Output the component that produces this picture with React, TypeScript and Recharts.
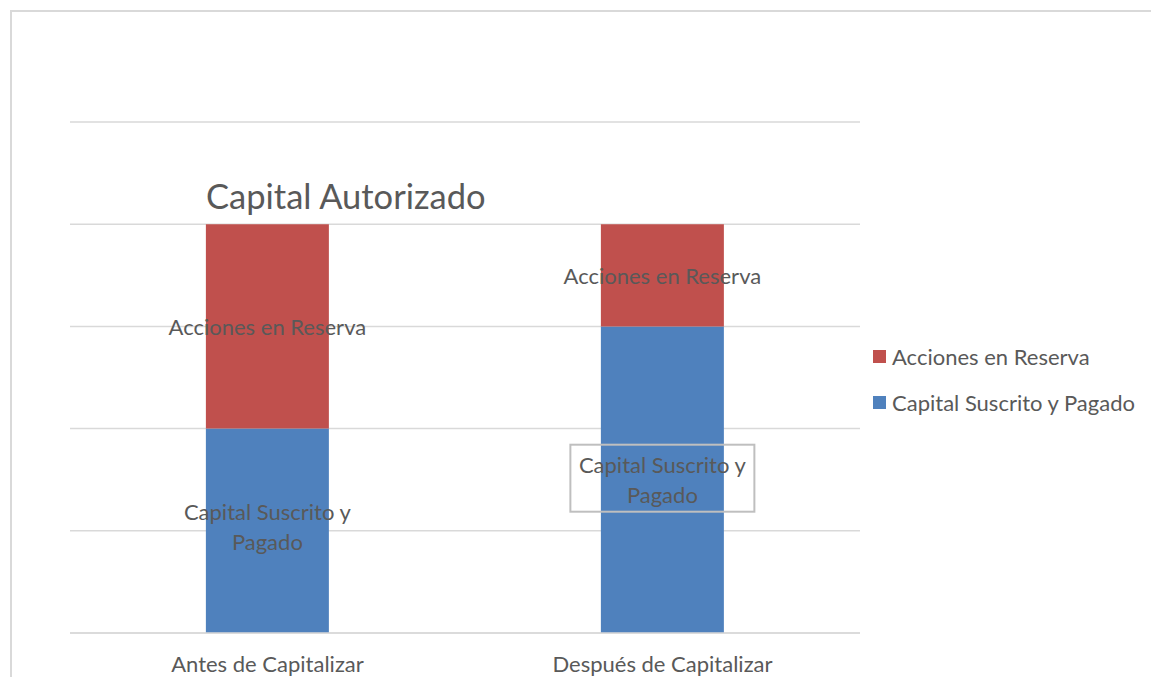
import { BarChart, Bar, XAxis, YAxis, CartesianGrid, LabelList } from "recharts";

const categories = ["Antes de Capitalizar", "Después de Capitalizar"];
const capitalSuscrito = [2, 3];
const accionesReserva = [2, 1];
const yTicks = [0, 1, 2, 3, 4, 5];

const BLUE = "#4F81BD";
const RED = "#C0504D";
const TEXT = "#595959";
const FONT = "Lato, 'Open Sans', sans-serif";
const FS = 22;

const data = categories.map((name, i) => ({
  name,
  capital: capitalSuscrito[i],
  reserva: accionesReserva[i],
}));

const legendItems = [
  { name: "Acciones en Reserva", color: RED },
  { name: "Capital Suscrito y Pagado", color: BLUE },
];

const ReservaLabel = (props: any) => {
  const { x, y, width, height } = props;
  return (
    <text x={x + width / 2} y={y + height / 2} textAnchor="middle" dominantBaseline="central" fill={TEXT} fontSize={FS} fontFamily={FONT}>
      Acciones en Reserva
    </text>
  );
};

const CapitalLabel = (props: any) => {
  const { x, y, width, height, index } = props;
  const cx = x + width / 2;
  const cy = y + height / 2 + (index === 0 ? -4 : 0);
  return (
    <g>
      {index === 1 && (
        <rect x={cx - 92} y={cy - 35} width={184} height={67} fill="none" stroke="#bfbfbf" strokeWidth={2} />
      )}
      <text x={cx} textAnchor="middle" fill={TEXT} fontSize={FS} fontFamily={FONT}>
        <tspan x={cx} y={cy - 7}>Capital Suscrito y</tspan>
        <tspan x={cx} y={cy + 23}>Pagado</tspan>
      </text>
    </g>
  );
};

// fixed box covering the window so nothing scrolls
export default function App() {
  return (
    <div style={{ position: "fixed", left: 0, top: 0, width: 1151, height: 677, overflow: "hidden", background: "#fff" }}>
      <div
        style={{
          position: "absolute",
          left: 10,
          top: 10,
          width: 1200,
          height: 700,
          borderTop: "2px solid #d9d9d9",
          borderLeft: "2px solid #d9d9d9",
        }}
      />
      <div
        style={{
          position: "absolute",
          left: 206,
          top: 175,
          fontFamily: FONT,
          fontSize: 34.5,
          color: TEXT,
          whiteSpace: "nowrap",
        }}
      >
        Capital Autorizado
      </div>
      <div style={{ position: "absolute", left: 873, top: 333, fontFamily: FONT, fontSize: FS, color: TEXT }}>
        {legendItems.map((d) => (
          <div key={d.name} style={{ display: "flex", alignItems: "center", height: 46 }}>
            <span style={{ width: 13, height: 13, background: d.color, marginRight: 6, display: "inline-block" }} />
            <span>{d.name}</span>
          </div>
        ))}
      </div>
      <div style={{ position: "absolute", left: 8, top: 8 }}>
        <BarChart
          width={1143}
          height={669}
          data={data}
          margin={{ top: 114, right: 291, left: 62, bottom: 0 }}
          barCategoryGap="34.4%"
        >
          <CartesianGrid vertical={false} stroke="#d9d9d9" strokeWidth={1.5} />
          <XAxis
            dataKey="name"
            height={44}
            tickLine={false}
            axisLine={{ stroke: "#d9d9d9", strokeWidth: 1.5 }}
            tick={{ fill: TEXT, fontSize: FS, fontFamily: FONT }}
            tickMargin={17}
          />
          <YAxis hide domain={[0, 5]} ticks={yTicks} />
          <Bar dataKey="capital" stackId="a" fill={BLUE} isAnimationActive={false}>
            <LabelList dataKey="capital" content={<CapitalLabel />} />
          </Bar>
          <Bar dataKey="reserva" stackId="a" fill={RED} isAnimationActive={false}>
            <LabelList dataKey="reserva" content={<ReservaLabel />} />
          </Bar>
        </BarChart>
      </div>
    </div>
  );
}
